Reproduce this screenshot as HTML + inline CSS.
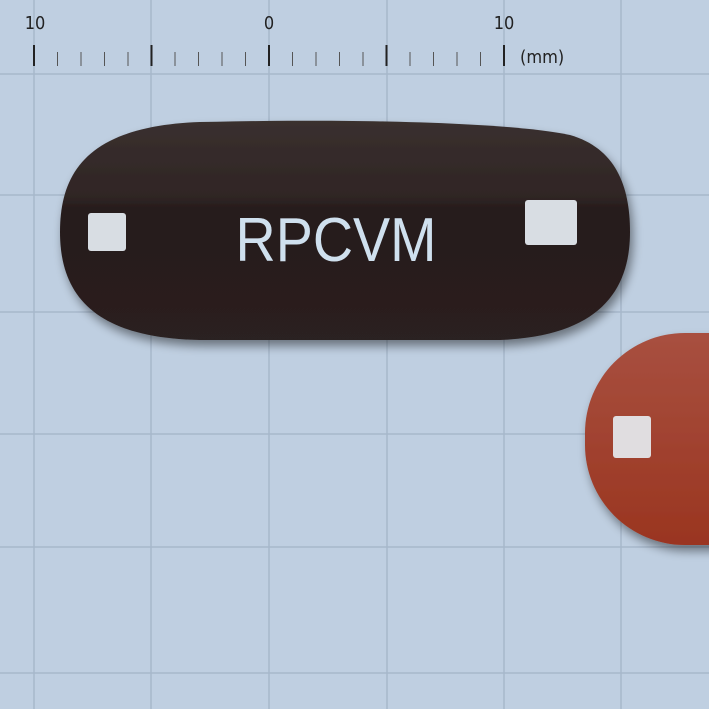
<!DOCTYPE html>
<html><head><meta charset="utf-8"><style>
html,body{margin:0;padding:0;background:#bfcfe1;}
svg{display:block;}
</style></head><body>
<svg width="709" height="709" viewBox="0 0 709 709" xmlns="http://www.w3.org/2000/svg">
<defs>
<filter id="sh" x="-20%" y="-20%" width="140%" height="150%"><feGaussianBlur in="SourceAlpha" stdDeviation="5"/><feOffset dx="3" dy="6"/><feComponentTransfer><feFuncA type="linear" slope="0.45"/></feComponentTransfer><feMerge><feMergeNode/><feMergeNode in="SourceGraphic"/></feMerge></filter>
<linearGradient id="dk" x1="0" y1="0" x2="0" y2="1"><stop offset="0" stop-color="#3a302f"/><stop offset="0.35" stop-color="#2f2524"/><stop offset="0.4" stop-color="#271c1c"/><stop offset="1" stop-color="#2a2020"/></linearGradient>
<linearGradient id="rd" x1="0" y1="0" x2="0" y2="1"><stop offset="0" stop-color="#a85040"/><stop offset="1" stop-color="#9a3520"/></linearGradient>
</defs>
<rect width="709" height="709" fill="#bfcfe1"/>
<g stroke="#a7b8cb" stroke-width="1.5">
<line x1="34" y1="0" x2="34" y2="709"/><line x1="151" y1="0" x2="151" y2="709"/><line x1="269" y1="0" x2="269" y2="709"/><line x1="387" y1="0" x2="387" y2="709"/><line x1="504" y1="0" x2="504" y2="709"/><line x1="621" y1="0" x2="621" y2="709"/>
<line x1="0" y1="74" x2="709" y2="74"/><line x1="0" y1="195" x2="709" y2="195"/><line x1="0" y1="312" x2="709" y2="312"/><line x1="0" y1="434" x2="709" y2="434"/><line x1="0" y1="547" x2="709" y2="547"/><line x1="0" y1="673" x2="709" y2="673"/>
</g>
<g stroke="#222" id="ruler"></g>
<g font-family="DejaVu Sans Condensed, DejaVu Sans, sans-serif" font-size="18" fill="#222">
<text x="35" y="29" text-anchor="middle">10</text>
<text x="269" y="29" text-anchor="middle">0</text>
<text x="504" y="29" text-anchor="middle">10</text>
<text x="520" y="63">(mm)</text>
</g>
<g filter="url(#sh)">
<path d="M200,122 C380,118 520,124 570,135 C615,148 630,185 630,232 C630,290 600,336 500,340 L200,340 C100,338 60,300 60,232 C60,170 90,126 200,122 Z" fill="url(#dk)"/>
<rect x="88" y="213" width="38" height="38" rx="3" fill="#d8dde3"/>
<rect x="525" y="200" width="52" height="45" rx="3" fill="#d8dde3"/>
<text x="336" y="261" text-anchor="middle" font-family="Liberation Sans, sans-serif" font-size="62" fill="#cfe0ee" textLength="201" lengthAdjust="spacingAndGlyphs">RPCVM</text>
</g>
<g filter="url(#sh)">
<rect x="585" y="333" width="300" height="212" rx="100" ry="100" fill="url(#rd)"/>
<rect x="613" y="416" width="38" height="42" rx="3" fill="#e0dde0"/>
</g>
<script>
var g=document.getElementById('ruler');
for(var i=0;i<=20;i++){var x=34+i*23.5;var l=document.createElementNS('http://www.w3.org/2000/svg','line');


var maj=i%5==0;l.setAttribute('x1',x);l.setAttribute('x2',x);l.setAttribute('y1',maj?45:52);l.setAttribute('y2',66);l.setAttribute('stroke-width',maj?2:1);if(!maj)l.setAttribute('stroke','#555');g.appendChild(l);}
</script>
</svg>
</body></html>
